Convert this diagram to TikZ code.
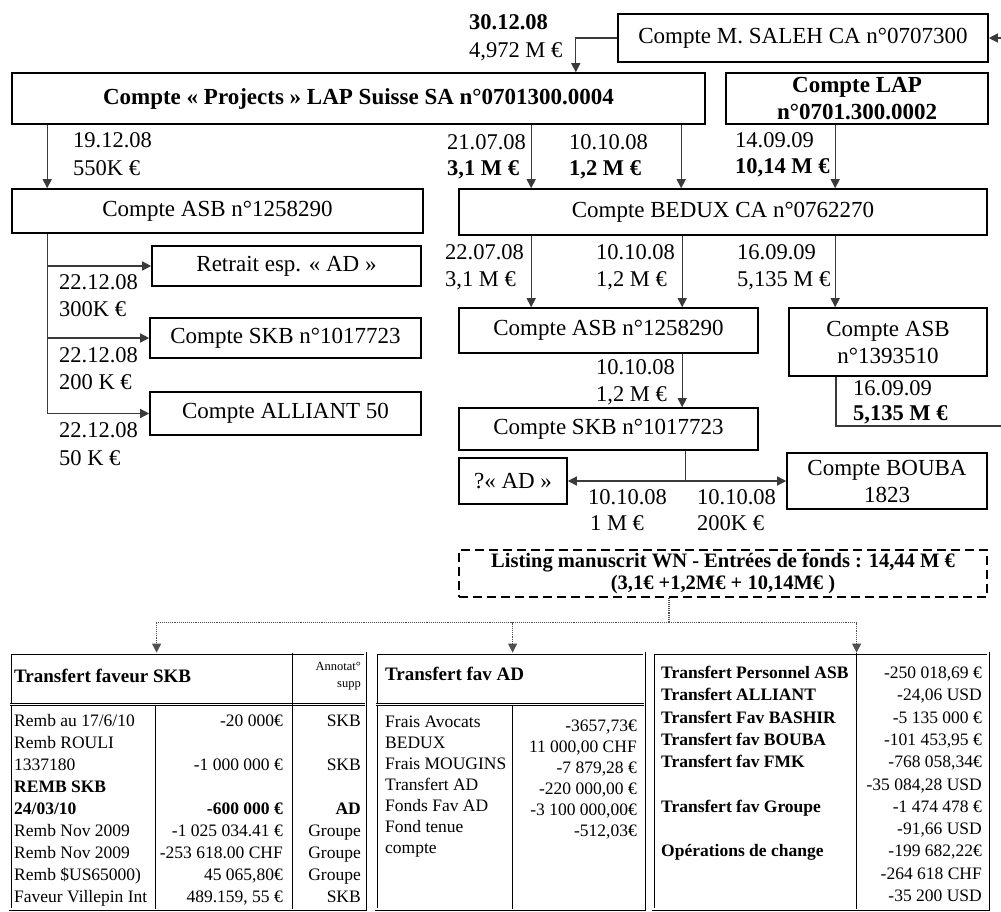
\documentclass[tikz,border=0pt]{standalone}
\usepackage{fontspec}
\setmainfont{Liberation Serif}
\usetikzlibrary{arrows.meta, positioning, calc}
\definecolor{lineGray}{HTML}{3A3A3A}
\definecolor{dotGray}{HTML}{505050}

\begin{document}
\begin{tikzpicture}[x=1pt, y=-1pt,
    every node/.style={font=\fontsize{23}{27}\selectfont},
    acct/.style={draw, line width=1.6pt, align=center, inner sep=0pt},
    acctb/.style={acct, font=\fontsize{23}{27}\selectfont\bfseries},
    lbl/.style={anchor=west, inner sep=0pt, text height=15pt, text depth=0pt, font=\fontsize{22.5}{27}\selectfont},
    lblb/.style={lbl, font=\fontsize{22.5}{27}\selectfont\bfseries},
    flow/.style={draw=lineGray, line width=1.3pt, -{Triangle[length=9pt, width=9pt]}},
    fundlink/.style={draw=dotGray, line width=1.1pt, densely dotted, -{Triangle[length=9pt, width=9pt]}},
    tabframe/.style={draw, double, double distance=1.4pt, line width=0.8pt},
    tabrule/.style={line width=1.2pt},
    cell/.style={inner sep=0pt, text height=12pt, text depth=0pt, font=\fontsize{17.5}{21}\selectfont}]
  \useasboundingbox (0,0) rectangle (1001,911);

  % top row
  \node[lblb] (d0) at (469,22) {30.12.08};
  \node[lbl] (s0) at (469,50) {4,972 M €};
  \node[acct, minimum width=370pt, minimum height=48pt] (saleh) at (803,38) {Compte M. SALEH CA n°0707300};
  \coordinate (inSaleh) at (1001,38);
  \node[acctb, minimum width=693pt, minimum height=51pt] (projects) at (358.5,98.5) {Compte « Projects » LAP Suisse SA n°0701300.0004};
  \node[acctb, minimum width=262pt, minimum height=51pt] (lap) at (857,98.5) {Compte LAP\\n°0701.300.0002};
  \draw[flow] (inSaleh) -- (saleh.east);
  \draw[flow] (saleh.west) -| ([xshift=-130pt]projects.north east);

  % second row
  \node[acct, minimum width=411pt, minimum height=44pt] (asbl) at (217.5,211) {Compte ASB n°1258290};
  \node[acct, minimum width=528pt, minimum height=46pt] (bedux) at (723,212) {Compte BEDUX CA n°0762270};
  \node[lbl] (d1) at (73,140) {19.12.08};
  \node[lbl] (s1) at (73,168) {550K €};
  \node[lbl] (d2) at (447,142) {21.07.08};
  \node[lblb] (s2) at (447,168) {3,1 M €};
  \node[lbl] (d3) at (569,142) {10.10.08};
  \node[lblb] (s3) at (569,168) {1,2 M €};
  \node[lbl] (d4) at (735,140) {14.09.09};
  \node[lblb] (s4) at (735,166) {10,14 M €};
  \draw[flow] ([xshift=36pt]projects.south west) -- ([xshift=36pt]asbl.north west);
  \draw[flow] ([xshift=73pt]bedux.north west |- projects.south) -- ([xshift=73pt]bedux.north west);
  \draw[flow] ([xshift=223pt]bedux.north west |- projects.south) -- ([xshift=223pt]bedux.north west);
  \draw[flow] ([xshift=377pt]bedux.north west |- lap.south) -- ([xshift=377pt]bedux.north west);

  % left branch
  \node[acct, minimum width=269pt, minimum height=40pt] (retrait) at (286.5,266) {Retrait esp. « AD »};
  \node[acct, minimum width=271pt, minimum height=40pt] (skbl) at (285.5,338) {Compte SKB n°1017723};
  \node[acct, minimum width=271pt, minimum height=43pt] (alliant) at (285.5,413.5) {Compte ALLIANT 50};
  \draw[flow] ([xshift=36pt]asbl.south west) |- (retrait.west);
  \draw[flow] ([xshift=36pt]asbl.south west) |- (skbl.west);
  \draw[flow] ([xshift=36pt]asbl.south west) |- (alliant.west);
  \node[lbl] (d5) at (59,282) {22.12.08};
  \node[lbl] (s5) at (59,309) {300K €};
  \node[lbl] (d6) at (59,355) {22.12.08};
  \node[lbl] (s6) at (59,382) {200 K €};
  \node[lbl] (d7) at (59,430) {22.12.08};
  \node[lbl] (s7) at (59,458) {50 K €};

  % BEDUX branch
  \node[acct, minimum width=299pt, minimum height=45pt] (asbm) at (608.5,330.5) {Compte ASB n°1258290};
  \node[acct, minimum width=198pt, minimum height=68pt] (asbb) at (888,342) {Compte ASB\\n°1393510};
  \node[acct, minimum width=299pt, minimum height=42pt] (skbm) at (608.5,429) {Compte SKB n°1017723};
  \draw[flow] ([xshift=73pt]bedux.south west) -- ([xshift=73pt]asbm.north west);
  \draw[flow] ([xshift=224pt]bedux.south west) -- ([xshift=224pt]asbm.north west);
  \draw[flow] ([xshift=377pt]bedux.south west) -- ([xshift=377pt]bedux.south west |- asbb.north);
  \draw[flow] ([xshift=224pt]asbm.south west) -- ([xshift=224pt]skbm.north west);
  \node[lbl] (d8) at (445,252) {22.07.08};
  \node[lbl] (s8) at (445,279) {3,1 M €};
  \node[lbl] (d9) at (596,252) {10.10.08};
  \node[lbl] (s9) at (596,279) {1,2 M €};
  \node[lbl] (d10) at (737,252) {16.09.09};
  \node[lbl] (s10) at (737,279) {5,135 M €};
  \node[lbl] (d11) at (596,367) {10.10.08};
  \node[lbl] (s11) at (596,394) {1,2 M €};
  \coordinate (outAsb) at (1001,426);
  \draw[lineGray, line width=1.3pt] ([xshift=-52pt]asbb.south) |- (outAsb);
  \node[lbl] (d12) at (853,388) {16.09.09};
  \node[lblb] (s12) at (853,413) {5,135 M €};

  % SKB split
  \node[acct, minimum width=108pt, minimum height=46pt] (adq) at (513,481) {?« AD »};
  \node[acct, minimum width=200pt, minimum height=56pt] (bouba) at (887,481) {Compte BOUBA\\1823};
  \draw[flow] ([xshift=227pt]skbm.south west) |- (adq.east);
  \draw[flow] ([xshift=227pt]skbm.south west) |- (bouba.west);
  \node[lbl] (d13) at (588,497) {10.10.08};
  \node[lbl] (s13) at (590,523) {1 M €};
  \node[lbl] (d14) at (697,497) {10.10.08};
  \node[lbl] (s14) at (697,523) {200K €};

  % listing and tables
  \node[draw, dash pattern=on 9pt off 5pt, line width=1.5pt, minimum width=528pt, minimum height=47pt,
    align=center, inner sep=0pt, font=\fontsize{20.5}{22}\selectfont\bfseries] (listing) at (723,573.5)
    {Listing manuscrit WN - Entrées de fonds : 14,44 M €\\(3,1€ +1,2M€ + 10,14M€ )};
  \node[tabframe, minimum width=355pt, minimum height=256pt] (tskb) at (187.5,781) {};
  \node[tabframe, minimum width=268pt, minimum height=256pt] (tad) at (510,781) {};
  \node[tabframe, minimum width=335pt, minimum height=256pt] (tasb) at (820.5,781) {};
  \draw[dotGray, densely dotted, line width=1.1pt] ([xshift=-54pt]listing.south) -- ++(0,25) coordinate (hub);
  \draw[fundlink] (hub) -| ([xshift=147pt]tskb.north west);
  \draw[fundlink] (hub) -| ([xshift=137pt]tad.north west);
  \draw[fundlink] (hub) -| ([xshift=204pt]tasb.north west);

  \draw[tabframe] ([yshift=-52pt]tskb.north west) -- ([yshift=-52pt]tskb.north east);
  \draw[tabframe] ([yshift=-52pt]tad.north west) -- ([yshift=-52pt]tad.north east);
  \draw[tabrule] ([xshift=146pt,yshift=-52pt]tskb.north west) -- ([xshift=146pt]tskb.south west);
  \draw[tabrule] ([xshift=283pt]tskb.north west) -- ([xshift=283pt]tskb.south west);
  \draw[tabrule] ([xshift=137pt,yshift=-52pt]tad.north west) -- ([xshift=137pt]tad.south west);
  \draw[tabrule] ([xshift=204pt]tasb.north west) -- ([xshift=204pt]tasb.south west);

  % table SKB
  \node[cell, anchor=west, font=\fontsize{19}{22}\selectfont\bfseries] (h1) at (14,676) {Transfert faveur SKB};
  \node[anchor=east, align=right, inner sep=0pt, font=\fontsize{12.5}{17}\selectfont] (h1n) at (361,676) {Annotat°\\supp};
  \foreach \y/\t in {720/{Remb au 17/6/10}, 742/{Remb ROULI}, 764/{1337180}, 786/{\textbf{REMB SKB}},
      808/{\textbf{24/03/10}}, 830/{Remb Nov 2009}, 852/{Remb Nov 2009}, 874/{Remb \$US65000)}, 896/{Faveur Villepin Int}}
    \node[cell, anchor=west] (la-\y) at (14,\y) {\t};
  \foreach \y/\t in {720/{-20 000€}, 764/{-1 000 000 €}, 808/{\textbf{-600 000 €}}, 830/{-1 025 034.41 €},
      852/{-253 618.00 CHF}, 874/{45 065,80€}, 896/{489.159, 55 €}}
    \node[cell, anchor=east] (am-\y) at (283,\y) {\t};
  \foreach \y/\t in {720/SKB, 764/SKB, 808/{\textbf{AD}}, 830/Groupe, 852/Groupe, 874/Groupe, 896/SKB}
    \node[cell, anchor=east] (an-\y) at (361,\y) {\t};

  % table AD
  \node[cell, anchor=west, font=\fontsize{19}{22}\selectfont\bfseries] (h2) at (385,674) {Transfert fav AD};
  \foreach \y/\t in {721/{Frais Avocats}, 742/BEDUX, 763/{Frais MOUGINS}, 784/{Transfert AD},
      805/{Fonds Fav AD}, 826/{Fond tenue}, 847/compte}
    \node[cell, anchor=west] (fa-\y) at (385,\y) {\t};
  \foreach \y/\t in {725/{-3657,73€}, 746/{11 000,00 CHF}, 767/{-7 879,28 €}, 788/{-220 000,00 €},
      809/{-3 100 000,00€}, 830/{-512,03€}}
    \node[cell, anchor=east] (fm-\y) at (637,\y) {\t};

  % table ASB
  \foreach \y/\t in {672/{Transfert Personnel ASB}, 694/{Transfert ALLIANT}, 717/{Transfert Fav BASHIR},
      739/{Transfert fav BOUBA}, 761/{Transfert fav FMK}, 806/{Transfert fav Groupe}, 850/{Opérations de change}}
    \node[cell, anchor=west, font=\fontsize{17.5}{21}\selectfont\bfseries] (ta-\y) at (661,\y) {\t};
  \foreach \y/\t in {672/{-250 018,69 €}, 694/{-24,06 USD}, 717/{-5 135 000 €}, 739/{-101 453,95 €},
      761/{-768 058,34€}, 784/{-35 084,28 USD}, 806/{-1 474 478 €}, 828/{-91,66 USD},
      850/{-199 682,22€}, 873/{-264 618 CHF}, 895/{-35 200 USD}}
    \node[cell, anchor=east] (tm-\y) at (982,\y) {\t};
\end{tikzpicture}
\end{document}
